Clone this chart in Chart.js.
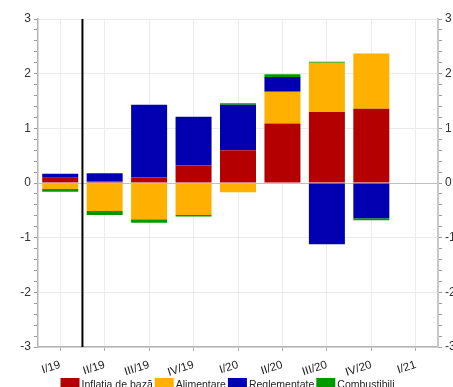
<!DOCTYPE html>
<html>
<head>
<meta charset="utf-8">
<script src="https://cdn.jsdelivr.net/npm/chart.js@4/dist/chart.umd.min.js"></script>
<style>
  html, body { margin: 0; padding: 0; background: #fff; overflow: hidden; }
  #wrap { width: 453px; height: 387px; position: relative; }
</style>
</head>
<body>
<div id="wrap"><canvas id="chart"></canvas></div>
<script>
// quarters on the x axis
var quarters = ['I/19', 'II/19', 'III/19', 'IV/19', 'I/20', 'II/20', 'III/20', 'IV/20', 'I/21'];

// contributions (pp)
var inflatia = [0.095, 0.03, 0.10, 0.32, 0.60, 1.09, 1.30, 1.36, null];
var alimentare = [-0.11, -0.51, -0.665, -0.585, -0.17, 0.58, 0.90, 1.01, null];
var reglementate = [0.073, 0.15, 1.33, 0.89, 0.83, 0.27, -1.12, -0.645, null];
var combustibili = [-0.05, -0.075, -0.06, -0.03, 0.03, 0.05, 0.02, -0.035, null];

var yMin = -3;
var yMax = 3;

var legendFont = '10.5px "Liberation Sans", Arial';

function isWhole(v) {
  return Math.abs(v - Math.round(v)) < 1e-6;
}

// vertical black line between I/19 and II/19
var dividerLine = {
  id: 'dividerLine',
  afterDatasetsDraw: function (chart) {
    var x = chart.scales.x;
    var area = chart.chartArea;
    var px = (x.getPixelForValue(0) + x.getPixelForValue(1)) / 2;
    var ctx = chart.ctx;
    ctx.save();
    ctx.strokeStyle = '#000';
    ctx.lineWidth = 2;
    ctx.beginPath();
    ctx.moveTo(px, area.top);
    ctx.lineTo(px, area.bottom);
    ctx.stroke();
    ctx.restore();
  }
};

// tight legend at the bottom (boxes sit almost against the text)
var tightLegend = {
  id: 'tightLegend',
  afterDraw: function (chart) {
    var ctx = chart.ctx;
    var sets = chart.data.datasets;
    var boxW = 19, boxH = 12, gap = 2, top = 378;
    ctx.save();
    ctx.font = legendFont;
    var total = 0;
    sets.forEach(function (ds) {
      total += boxW + gap + ctx.measureText(ds.label).width + gap;
    });
    var x = (chart.width - total) / 2 + 2;
    ctx.textBaseline = 'middle';
    sets.forEach(function (ds) {
      ctx.fillStyle = ds.backgroundColor;
      ctx.fillRect(x, top, boxW, boxH);
      x += boxW + gap;
      ctx.fillStyle = '#222';
      ctx.fillText(ds.label, x, top + boxH / 2 + 1);
      x += ctx.measureText(ds.label).width + gap;
    });
    ctx.restore();
  }
};

var yTicks = {
  stepSize: 0.2,
  autoSkip: false,
  color: '#333',
  font: { family: 'Liberation Sans, Arial', size: 12 },
  padding: 3,
  callback: function (v) {
    return isWhole(v) ? String(Math.round(v)) : '';
  }
};

function yGridColor(ctx) {
  var v = ctx.tick ? ctx.tick.value : 1;
  if (!isWhole(v)) return 'rgba(0,0,0,0)';
  if (Math.round(v) === 0) return '#c0c0c0';
  return '#ebebeb';
}

new Chart(document.getElementById('chart'), {
  type: 'bar',
  data: {
    labels: quarters,
    datasets: [
      { label: 'Inflatia de bază', data: inflatia, backgroundColor: '#b40000' },
      { label: 'Alimentare', data: alimentare, backgroundColor: '#ffb000' },
      { label: 'Reglementate', data: reglementate, backgroundColor: '#0000b0' },
      { label: 'Combustibili', data: combustibili, backgroundColor: '#009a00' }
    ]
  },
  options: {
    responsive: true,
    maintainAspectRatio: false,
    animation: false,
    datasets: {
      bar: { barPercentage: 0.81, categoryPercentage: 1, borderWidth: 0 }
    },
    layout: { padding: { top: 19, left: 0, right: 0, bottom: 10 } },
    plugins: {
      tooltip: { enabled: false },
      title: { display: false },
      legend: { display: false }
    },
    scales: {
      x: {
        stacked: true,
        offset: true,
        grid: { color: '#ececec', tickColor: '#aaa', tickLength: 4, offset: false },
        border: { color: '#b4b4b4', width: 1.5 },
        ticks: {
          color: '#222',
          minRotation: 18,
          maxRotation: 18,
          padding: 7,
          font: { family: 'Liberation Sans, Arial', size: 11.5 }
        },
        afterFit: function (scale) { scale.height = 30; }
      },
      y: {
        stacked: true,
        position: 'left',
        min: yMin,
        max: yMax,
        ticks: yTicks,
        grid: { color: yGridColor, tickColor: '#999', tickLength: 4 },
        border: { color: '#b4b4b4', width: 1.5 },
        afterFit: function (scale) { scale.width = 38; }
      },
      y2: {
        position: 'right',
        min: yMin,
        max: yMax,
        ticks: yTicks,
        grid: { drawOnChartArea: false, tickColor: '#999', tickLength: 4 },
        border: { color: '#c8c8c8', width: 2 },
        afterFit: function (scale) { scale.width = 15; }
      }
    }
  },
  plugins: [dividerLine, tightLegend]
});
</script>
</body>
</html>
